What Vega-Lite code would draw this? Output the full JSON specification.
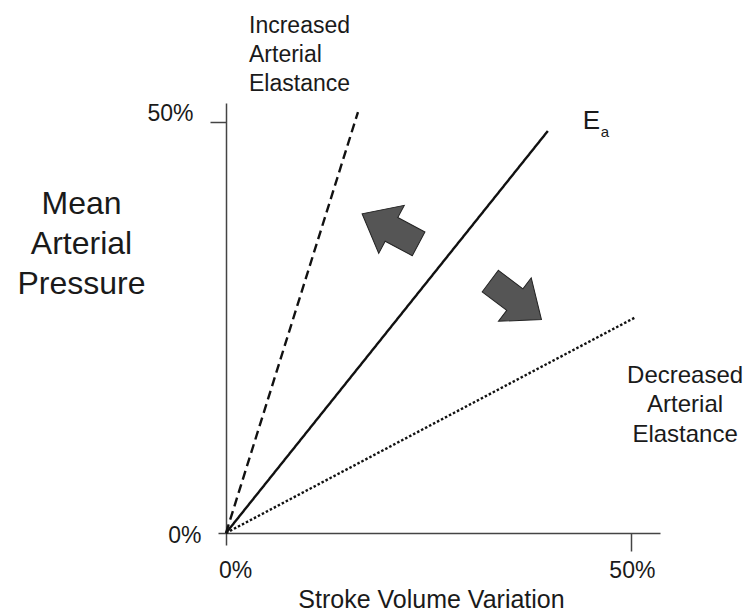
{
  "$schema": "https://vega.github.io/schema/vega-lite/v6.json",
  "width": 434,
  "height": 430,
  "autosize": {"type": "none"},
  "padding": {"left": 226, "top": 103, "right": 87, "bottom": 79},
  "background": "white",
  "config": {"view": {"stroke": null}, "font": "Liberation Sans"},
  "datasets": {
    "lines": [
      {"series": "Ea", "x": 0, "y": 0},
      {"series": "Ea", "x": 39.75, "y": 48.9},
      {"series": "increased", "x": 0, "y": 0},
      {"series": "increased", "x": 16.3, "y": 51.2},
      {"series": "decreased", "x": 0, "y": 0},
      {"series": "decreased", "x": 50.5, "y": 26.2}
    ],
    "arrows": [
      {"direction": "toward increased", "x": 20.3, "y": 37.0},
      {"direction": "toward decreased", "x": 35.8, "y": 28.3}
    ],
    "notes": [
      {"id": "increased", "text": "Increased\nArterial\nElastance", "x": 2.84, "y": 60.8},
      {"id": "decreased", "text": "Decreased\nArterial\nElastance", "x": 56.7, "y": 18.25},
      {"id": "Ea", "text": "E", "x": 44.07, "y": 49.15},
      {"id": "Ea_sub", "text": "a", "x": 44.07, "y": 49.15}
    ]
  },
  "encoding": {
    "x": {
      "field": "x",
      "type": "quantitative",
      "scale": {"domain": [0, 53.6], "nice": false, "zero": false},
      "axis": {
        "values": [0, 50],
        "labelExpr": "datum.value + '%'",
        "grid": false,
        "domainColor": "#444",
        "domainWidth": 1.5,
        "tickColor": "#444",
        "tickWidth": 1.5,
        "tickSize": {"condition": {"test": "datum.value === 0", "value": 12}, "value": 18},
        "labelFontSize": 23,
        "labelColor": "#1a1a1a",
        "labelPadding": {"condition": {"test": "datum.value === 0", "value": 14}, "value": 8},
        "labelFlush": false,
        "labelOffset": {"condition": {"test": "datum.value === 0", "value": 9}, "value": 1},
        "title": "Stroke Volume Variation",
        "titleFontSize": 25,
        "titleFontWeight": "normal",
        "titleColor": "#1a1a1a",
        "titleX": 205,
        "titleY": 74,
        "titleAlign": "center",
        "titleBaseline": "alphabetic"
      }
    },
    "y": {
      "field": "y",
      "type": "quantitative",
      "scale": {"domain": [0, 52.3], "nice": false, "zero": false},
      "axis": {
        "values": [0, 50],
        "labelExpr": "datum.value + '%'",
        "grid": false,
        "domainColor": "#444",
        "domainWidth": 1.5,
        "tickColor": "#444",
        "tickWidth": 1.5,
        "tickSize": {"condition": {"test": "datum.value === 0", "value": 8}, "value": 16},
        "labelFontSize": 23,
        "labelColor": "#1a1a1a",
        "labelPadding": 17,
        "labelFlush": false,
        "labelBaseline": "middle",
        "labelOffset": {"condition": {"test": "datum.value === 0", "value": 2}, "value": -8},
        "title": ["Mean", "Arterial", "Pressure"],
        "titleAngle": 0,
        "titleFontSize": 32,
        "titleLineHeight": 40,
        "titleFontWeight": "normal",
        "titleColor": "#1a1a1a",
        "titleX": -145,
        "titleY": 110,
        "titleAlign": "center",
        "titleBaseline": "alphabetic"
      }
    }
  },
  "layer": [
    {
      "data": {"name": "lines"},
      "mark": {"type": "line", "color": "#111", "strokeWidth": 2.4, "strokeCap": "butt"},
      "encoding": {
        "strokeDash": {
          "field": "series",
          "type": "nominal",
          "scale": {"domain": ["Ea", "increased", "decreased"], "range": [[1, 0], [9, 5], [2.5, 2]]},
          "legend": null
        }
      }
    },
    {
      "data": {"name": "arrows"},
      "mark": {
        "type": "point",
        "shape": "M -1 -0.42 L -0.04 -0.42 L -0.04 -0.85 L 1 0 L -0.04 0.85 L -0.04 0.42 L -1 0.42 Z",
        "filled": true,
        "fill": "#555",
        "stroke": "#222",
        "strokeWidth": 1,
        "size": 4100,
        "opacity": 1
      },
      "encoding": {
        "angle": {
          "field": "direction",
          "type": "nominal",
          "scale": {"domain": ["toward increased", "toward decreased"], "range": [208, 37]},
          "legend": null
        }
      }
    },
    {
      "data": {"name": "notes"},
      "transform": [{"filter": "datum.id === 'increased'"}],
      "mark": {"type": "text", "align": "left", "baseline": "alphabetic", "fontSize": 23, "lineHeight": 29, "lineBreak": "\n", "color": "#1a1a1a"},
      "encoding": {"text": {"field": "text"}}
    },
    {
      "data": {"name": "notes"},
      "transform": [{"filter": "datum.id === 'decreased'"}],
      "mark": {"type": "text", "align": "center", "baseline": "alphabetic", "fontSize": 24, "lineHeight": 29.5, "lineBreak": "\n", "color": "#1a1a1a"},
      "encoding": {"text": {"field": "text"}}
    },
    {
      "data": {"name": "notes"},
      "transform": [{"filter": "datum.id === 'Ea'"}],
      "mark": {"type": "text", "align": "left", "baseline": "alphabetic", "fontSize": 26, "color": "#1a1a1a"},
      "encoding": {"text": {"field": "text"}}
    },
    {
      "data": {"name": "notes"},
      "transform": [{"filter": "datum.id === 'Ea_sub'"}],
      "mark": {"type": "text", "align": "left", "baseline": "alphabetic", "fontSize": 15, "dx": 18, "dy": 8, "color": "#1a1a1a"},
      "encoding": {"text": {"field": "text"}}
    }
  ]
}
